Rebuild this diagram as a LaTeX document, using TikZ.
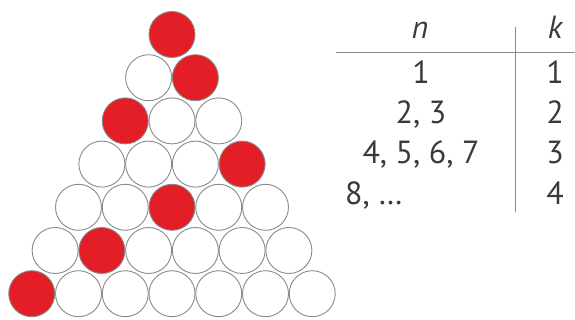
\documentclass[tikz,border=0pt]{standalone}
\usepackage{fontspec}
\setmainfont{PT Sans}
\usetikzlibrary{positioning}
\definecolor{ballred}{HTML}{E41E26}
\definecolor{rimgray}{HTML}{8A8A8A}
\definecolor{inkgray}{HTML}{3A3A3A}
\newcommand{\tabfont}{\fontsize{32}{36}\selectfont}

\begin{document}
\begin{tikzpicture}[x=1pt,y=-1pt,
  ball/.style={circle,draw=rimgray,line width=0.9pt,fill=white,
    minimum size=46pt,inner sep=0pt},
  hit/.style={ball,fill=ballred},
  cell/.style={font=\tabfont,text=inkgray,inner sep=0pt,anchor=base},
  rule/.style={draw=rimgray,line width=1pt}]
  \useasboundingbox (0,0) rectangle (575,320);
  % Triangle of balls, one red ball in each row
  \foreach \r/\h in {0/0,1/1,2/0,3/3,4/2,5/1,6/0}{
    \foreach \i in {0,...,\r}{
      \ifnum\i=\h \def\sty{hit}\else\def\sty{ball}\fi
      \node[\sty] (b\r-\i) at ({172+(\i-\r/2)*46.75},{34.5+\r*43.2}) {};
    }
  }
  % Table of n and k
  \coordinate (hl) at (336,53);
  \coordinate (hr) at (575,53);
  \coordinate (vt) at (515,27);
  \coordinate (vb) at (515,212);
  \draw[rule] (hl) -- (hr);
  \draw[rule] (vt) -- (vb);
  \node[cell] (nhead) at (420,39) {\itshape n};
  \node[cell] (khead) at (555,39) {\itshape k};
  \node[cell] (n1) at (421,84) {1};
  \node[cell] (n2) at (421,124) {2, 3};
  \node[cell] (n3) at (421,164) {4, 5, 6, 7};
  \node[cell,anchor=base west] (n4) at (345,205) {8, …};
  \node[cell] (k1) at (555,84) {1};
  \node[cell] (k2) at (555,124) {2};
  \node[cell] (k3) at (555,164) {3};
  \node[cell] (k4) at (555,205) {4};
\end{tikzpicture}
\end{document}
